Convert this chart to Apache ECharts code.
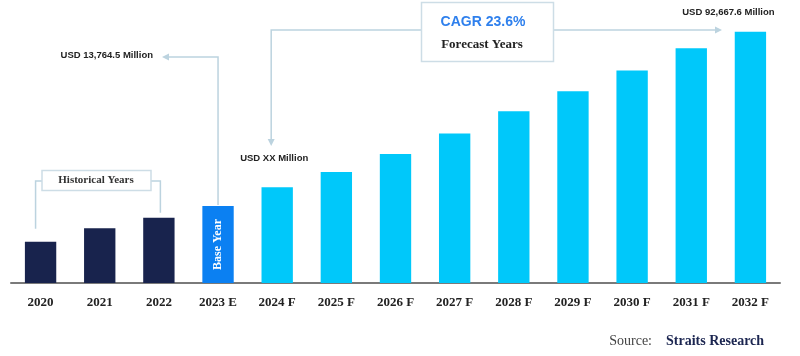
<!DOCTYPE html>
<html><head><meta charset="utf-8">
<script src="https://cdn.jsdelivr.net/npm/echarts@6/dist/echarts.min.js"></script>
<style>html,body{margin:0;padding:0;background:#fff}#c{width:800px;height:356px}</style>
</head><body><div id="c"></div>
<script>
const categories = ['2020','2021','2022','2023 E','2024 F','2025 F','2026 F','2027 F','2028 F','2029 F','2030 F','2031 F','2032 F'];
const values = [15200, 20200, 24100, 28400, 35300, 41000, 47600, 55200, 63400, 70800, 78400, 86600, 92667.6];
const periods = ['hist','hist','hist','base','fc','fc','fc','fc','fc','fc','fc','fc','fc'];
const periodColors = {hist:'#18234d', base:'#0b80f2', fc:'#00c8fa'};

const chart = echarts.init(document.getElementById('c'));
const serif = 'Liberation Serif';
const sans = 'Liberation Sans';
chart.setOption({
  animation:false,
  grid:{left:11,right:20,top:12,bottom:73},
  xAxis:{type:'category',data:categories,
    axisLine:{lineStyle:{color:'#7a7a7a',width:2}},
    axisTick:{show:false},
    axisLabel:{fontFamily:serif,fontWeight:'bold',fontSize:13,color:'#222',margin:13,interval:0}},
  yAxis:{type:'value',min:0,max:100000,show:false,splitLine:{show:false}},
  series:[{type:'bar',barWidth:'53%',
    data:values.map((v,i)=>({value:v,itemStyle:{color:periodColors[periods[i]]},
      label: periods[i]==='base' ? {show:true,position:'inside',rotate:90,formatter:'Base Year',color:'#fff',fontFamily:serif,fontWeight:'bold',fontSize:12} : {show:false}}))
  }]
});

const px = i => chart.convertToPixel({seriesIndex:0},[i, values[i]]);
const base = px(3), f24 = px(4), last = px(12), h0 = px(0), h2 = px(2);
const lc = '#bcd3df';
const lineS = {stroke:lc,lineWidth:1.5,fill:null};
const g = [];
function poly(points){ g.push({type:'polyline',shape:{points},style:lineS,silent:true}); }
function tri(points){ g.push({type:'polygon',shape:{points},style:{fill:lc},silent:true}); }
function txt(x,y,text,font,color,align){ g.push({type:'text',x,y,style:{text,font,fill:color,align:align||'center',verticalAlign:'middle'},silent:true}); }

// base year arrow to left label
const topY = 57;
poly([[base[0],base[1]-1],[base[0],topY],[168,topY]]);
tri([[162,topY],[169,topY-3.5],[169,topY+3.5]]);
txt(153,topY-2,'USD 13,764.5 Million','bold 9.5px '+sans,'#222','right');

// forecast arrow
const fx = f24[0]-6, lineY = 30;
poly([[fx,142],[fx,lineY],[421,lineY]]);
tri([[fx,146],[fx-3.5,139],[fx+3.5,139]]);
poly([[554,lineY],[716,lineY]]);
tri([[722,lineY],[715,lineY-3.5],[715,lineY+3.5]]);
g.push({type:'rect',shape:{x:421.5,y:2.5,width:132,height:59},style:{fill:'#fff',stroke:'#cddde6',lineWidth:1.5},silent:true});
txt(483,22,'CAGR 23.6%','bold 14px '+sans,'#2f80ed');
txt(482,45,'Forecast Years','bold 13px '+serif,'#222');
txt(f24[0]-3,158,'USD XX Million','bold 9.5px '+sans,'#222');
txt(last[0]-22,12,'USD 92,667.6 Million','bold 9.5px '+sans,'#222');

// historical bracket
const bY = 181;
poly([[h0[0]-5,h0[1]-13],[h0[0]-5,bY],[42,bY]]);
poly([[151,bY],[h2[0]+1.5,bY],[h2[0]+1.5,h2[1]-5]]);
g.push({type:'rect',shape:{x:42,y:170.5,width:109,height:20},style:{fill:'#fff',stroke:'#cddde6',lineWidth:1.5},silent:true});
txt(96,180.5,'Historical Years','bold 11px '+serif,'#333');

// source
txt(652,341,'Source:','14px '+serif,'#444','right');
txt(666,341,'Straits Research','bold 14px '+serif,'#1b2550','left');

chart.setOption({graphic:g});
</script></body></html>
